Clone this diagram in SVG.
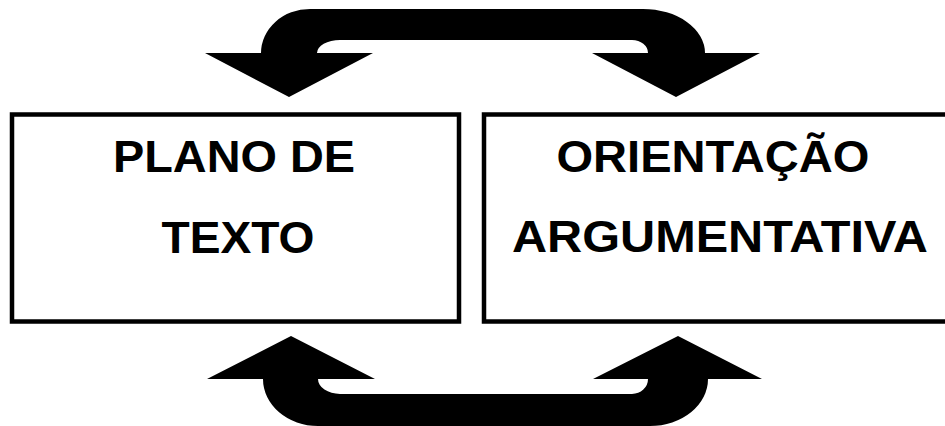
<svg xmlns="http://www.w3.org/2000/svg" width="945" height="426" viewBox="0 0 945 426">
<style>
.box{fill:#fff;stroke:#000;stroke-width:4.5}
.lbl{font-family:"Liberation Sans",Arial,sans-serif;font-weight:bold;font-size:45px;fill:#000;text-anchor:middle}
.arr{fill:#000;stroke:none}
</style>
<rect width="945" height="426" fill="#fff"/>
<g id="connectors">
<path class="arr" d="M289,97 L373,53 L317,53 A23,13 0 0 1 340,40 L632,40 A16,13 0 0 1 648,53 L592,53 L676,97 L760,53 L705,53 A62,44 0 0 0 643,9 L310,9 A49,44 0 0 0 261,53 L205,53 Z"/>
<path class="arr" d="M291,336 L375,379 L318,379 A22,15 0 0 0 340,394 L632,394 A16,15 0 0 0 648,379 L593,379 L678,336 L762,379 L708,379 A58,47 0 0 1 650,426 L318,426 A55,47 0 0 1 263,379 L207,379 Z"/>
</g>
<g id="node-plano">
<rect class="box" x="12" y="114.5" width="447" height="207"/>
<text class="lbl" x="234" y="172" textLength="242" lengthAdjust="spacingAndGlyphs">PLANO DE</text>
<text class="lbl" x="238" y="253" textLength="153" lengthAdjust="spacingAndGlyphs">TEXTO</text>
</g>
<g id="node-orientacao">
<rect class="box" x="484" y="114.5" width="470" height="207"/>
<text class="lbl" x="713" y="172" textLength="313" lengthAdjust="spacingAndGlyphs">ORIENTAÇÃO</text>
<text class="lbl" x="720" y="252" textLength="416" lengthAdjust="spacingAndGlyphs">ARGUMENTATIVA</text>
</g>
</svg>
